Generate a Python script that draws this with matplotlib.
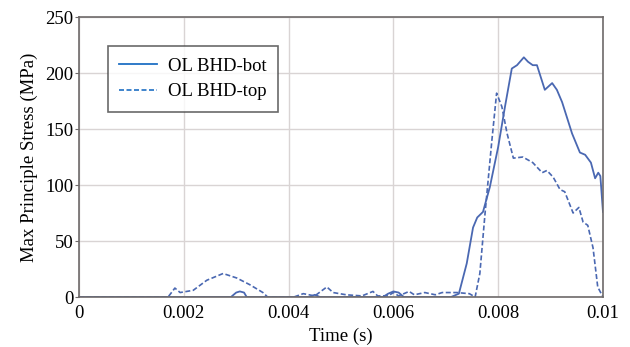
import matplotlib
matplotlib.use("Agg")
import matplotlib.pyplot as plt

plt.rcParams['font.family'] = ['Liberation Serif', 'DejaVu Serif']

# OL BHD-bot (solid)
t_bot = [0, 0.0029, 0.0030, 0.00307, 0.00315, 0.0032, 0.0044, 0.0045, 0.0046,
         0.0058, 0.0059, 0.0060, 0.0061, 0.0062, 0.0071, 0.00725, 0.0074,
         0.00752, 0.0076, 0.00771, 0.00784, 0.0080, 0.00813, 0.00826, 0.00836,
         0.00849, 0.00857, 0.00866, 0.00874, 0.00889, 0.00903, 0.00912, 0.00922,
         0.00941, 0.00956, 0.00966, 0.00977, 0.00985, 0.00991, 0.00995, 0.0100]
s_bot = [0, 0, 4, 5, 4, 0, 0, 2, 0,
         0, 3, 5, 4, 0, 0, 3, 30,
         62, 71, 76, 98, 134, 170, 204, 207,
         214, 210, 207, 207, 185, 191, 185, 174,
         146, 129, 127, 120, 106, 111, 108, 76]

# OL BHD-top (dashed)
t_top = [0, 0.0017, 0.00183, 0.00193, 0.00218, 0.00244, 0.00275, 0.00301,
         0.00326, 0.00351, 0.0036, 0.0041, 0.00428, 0.0045, 0.00473, 0.00485,
         0.0051, 0.0054, 0.00561, 0.0057, 0.0059, 0.0060, 0.0061, 0.0063,
         0.0064, 0.0066, 0.0068, 0.00693, 0.00721, 0.00745, 0.00756, 0.00765,
         0.00775, 0.00788, 0.00797, 0.00807, 0.00817, 0.00829, 0.00847, 0.00866,
         0.00884, 0.00893, 0.00905, 0.00918, 0.00927, 0.00943, 0.00954, 0.00962,
         0.00971, 0.00981, 0.0099, 0.0100]
s_top = [0, 0, 8, 4, 6, 15, 21, 17,
         11, 4, 0, 0, 3, 1, 9, 4,
         2, 1, 5, 1, 1, 4, 1, 5,
         2, 4, 2, 4, 4, 3, 0, 21,
         75, 140, 182, 170, 146, 124, 125, 120,
         111, 113, 107, 96, 94, 75, 80, 67,
         64, 44, 9, 0]

x_ticks = [0, 0.002, 0.004, 0.006, 0.008, 0.01]
x_labels = ["0", "0.002", "0.004", "0.006", "0.008", "0.01"]
y_ticks = [0, 50, 100, 150, 200, 250]

color = "#4a68b2"
fs = 13.5

fig = plt.figure(figsize=(6.3, 3.47), dpi=100)
ax = fig.add_axes([0.1254, 0.144, 0.8317, 0.807])

ax.plot(t_bot, s_bot, color=color, lw=1.3, label="OL BHD-bot")
ax.plot(t_top, s_top, color=color, lw=1.2, ls=(0, (3, 1.5)), label="OL BHD-top")

ax.set_xlim(0, 0.01)
ax.set_ylim(0, 250)
ax.set_xticks(x_ticks)
ax.set_xticklabels(x_labels)
ax.set_yticks(y_ticks)
ax.grid(True, color="#d9d4d4", lw=1)
ax.set_axisbelow(True)
for sp in ax.spines.values():
    sp.set_color("#6e6a6a")
    sp.set_linewidth(1.2)
ax.tick_params(axis='y', length=3, color="#6e6a6a", labelsize=fs, pad=1)
ax.tick_params(axis='x', length=0, labelsize=fs, pad=6)

ax.set_xlabel("Time (s)", fontsize=fs, labelpad=4)
ax.set_ylabel("Max Principle Stress (MPa)", fontsize=fs, labelpad=5)

leg = ax.legend(loc="upper left", bbox_to_anchor=(0.055, 0.895), fontsize=fs,
                frameon=True, fancybox=False, handlelength=2.0, handletextpad=0.6,
                borderpad=0.6, labelspacing=0.45, borderaxespad=0)
leg.get_frame().set_edgecolor("#444444")
leg.get_frame().set_linewidth(1.2)
for h in leg.get_lines():
    h.set_color("#1f6fc4")

fig.savefig("out.png", dpi=100)
